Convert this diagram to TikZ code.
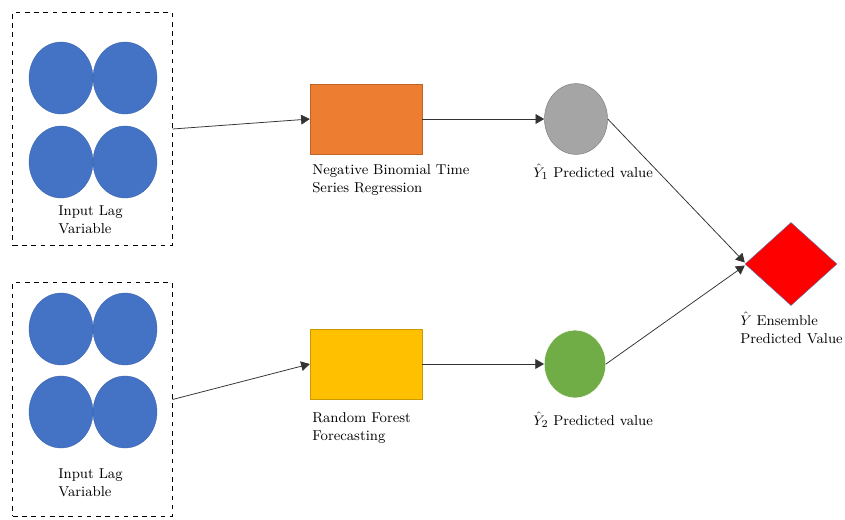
\documentclass[tikz,border=0pt]{standalone}
\usepackage{amsmath}
\usepackage{tikz}
\usetikzlibrary{arrows}
\usetikzlibrary{shapes.geometric}
\usepackage{xcolor}
\definecolor{lagblue}{HTML}{4472C4}
\definecolor{nborange}{HTML}{ED7D31}
\definecolor{rfyellow}{HTML}{FFC000}
\definecolor{predgray}{HTML}{A5A5A5}
\definecolor{predgreen}{HTML}{70AD47}

\begin{document}
\begin{tikzpicture}[x=0.65pt,y=-0.65pt]
\tikzstyle{pointer} = [-triangle 60, draw=black!80, line width=0.5pt]
\tikzstyle{lag} = [ellipse, fill=lagblue, draw=lagblue!85!black, line width=0.2pt, minimum width=41.6pt, minimum height=46.8pt, inner sep=0pt]
\tikzstyle{model} = [rectangle, line width=0.3pt, minimum width=72.8pt, minimum height=45.5pt, inner sep=0pt]
\tikzstyle{lagbox} = [draw, dashed, line width=0.6pt, minimum width=103.4pt, minimum height=152pt, inner sep=0pt]
\tikzstyle{label} = [anchor=north west, align=left, inner sep=0pt, font=\fontsize{9.3}{11.7}\selectfont]

\useasboundingbox (0,0) rectangle (845,519);

% top input
\node[lagbox] (b1) at (92.5,129) {};
\node[lag] (c1) at (61,78) {};
\node[lag] (c2) at (125,78) {};
\node[lag] (c3) at (61,162) {};
\node[lag] (c4) at (125,162) {};
\node[label] (t1) at (58,205) {Input Lag\\Variable};

% bottom input
\node[lagbox] (b2) at (92.5,399.5) {};
\node[lag] (c5) at (61,329) {};
\node[lag] (c6) at (125,329) {};
\node[lag] (c7) at (61,412) {};
\node[lag] (c8) at (125,412) {};
\node[label] (t2) at (58,468) {Input Lag\\Variable};

% models
\node[model, fill=nborange, draw=nborange!80!black] (m1) at (366,119) {};
\node[label] (t3) at (312,164) {Negative Binomial Time\\Series Regression};
\node[model, fill=rfyellow, draw=rfyellow!80!black] (m2) at (366,364) {};
\node[label] (t4) at (312,412) {Random Forest\\Forecasting};

% predictions
\node[ellipse, fill=predgray, draw=predgray!75!black, line width=0.3pt, minimum width=41pt, minimum height=46pt, inner sep=0pt] (p1) at (576,119) {};
\node[label] (t5) at (533,164) {$\hat{Y}_1$ Predicted value};
\node[ellipse, fill=predgreen, draw=white, line width=0.3pt, minimum width=40pt, minimum height=44pt, inner sep=0pt] (p2) at (575,364) {};
\node[label] (t6) at (533,412) {$\hat{Y}_2$ Predicted value};

% ensemble
\node[diamond, fill=red, draw=lagblue!60!gray, line width=0.3pt, minimum width=59.8pt, minimum height=54pt, inner sep=0pt] (e) at (791,264) {};
\node[label] (t7) at (740,312) {$\hat{Y}$ Ensemble\\Predicted Value};

\draw [pointer] (b1.east) -- (m1.west);
\draw [pointer] (b2.east) -- (m2.west);
\draw [pointer] (m1.east) -- (p1.west);
\draw [pointer] (m2.east) -- (p2.west);
\draw [pointer] (p1.east) -- ([yshift=1pt]e.west);
\draw [pointer] (p2.east) -- ([yshift=-1pt]e.west);
\end{tikzpicture}
\end{document}
